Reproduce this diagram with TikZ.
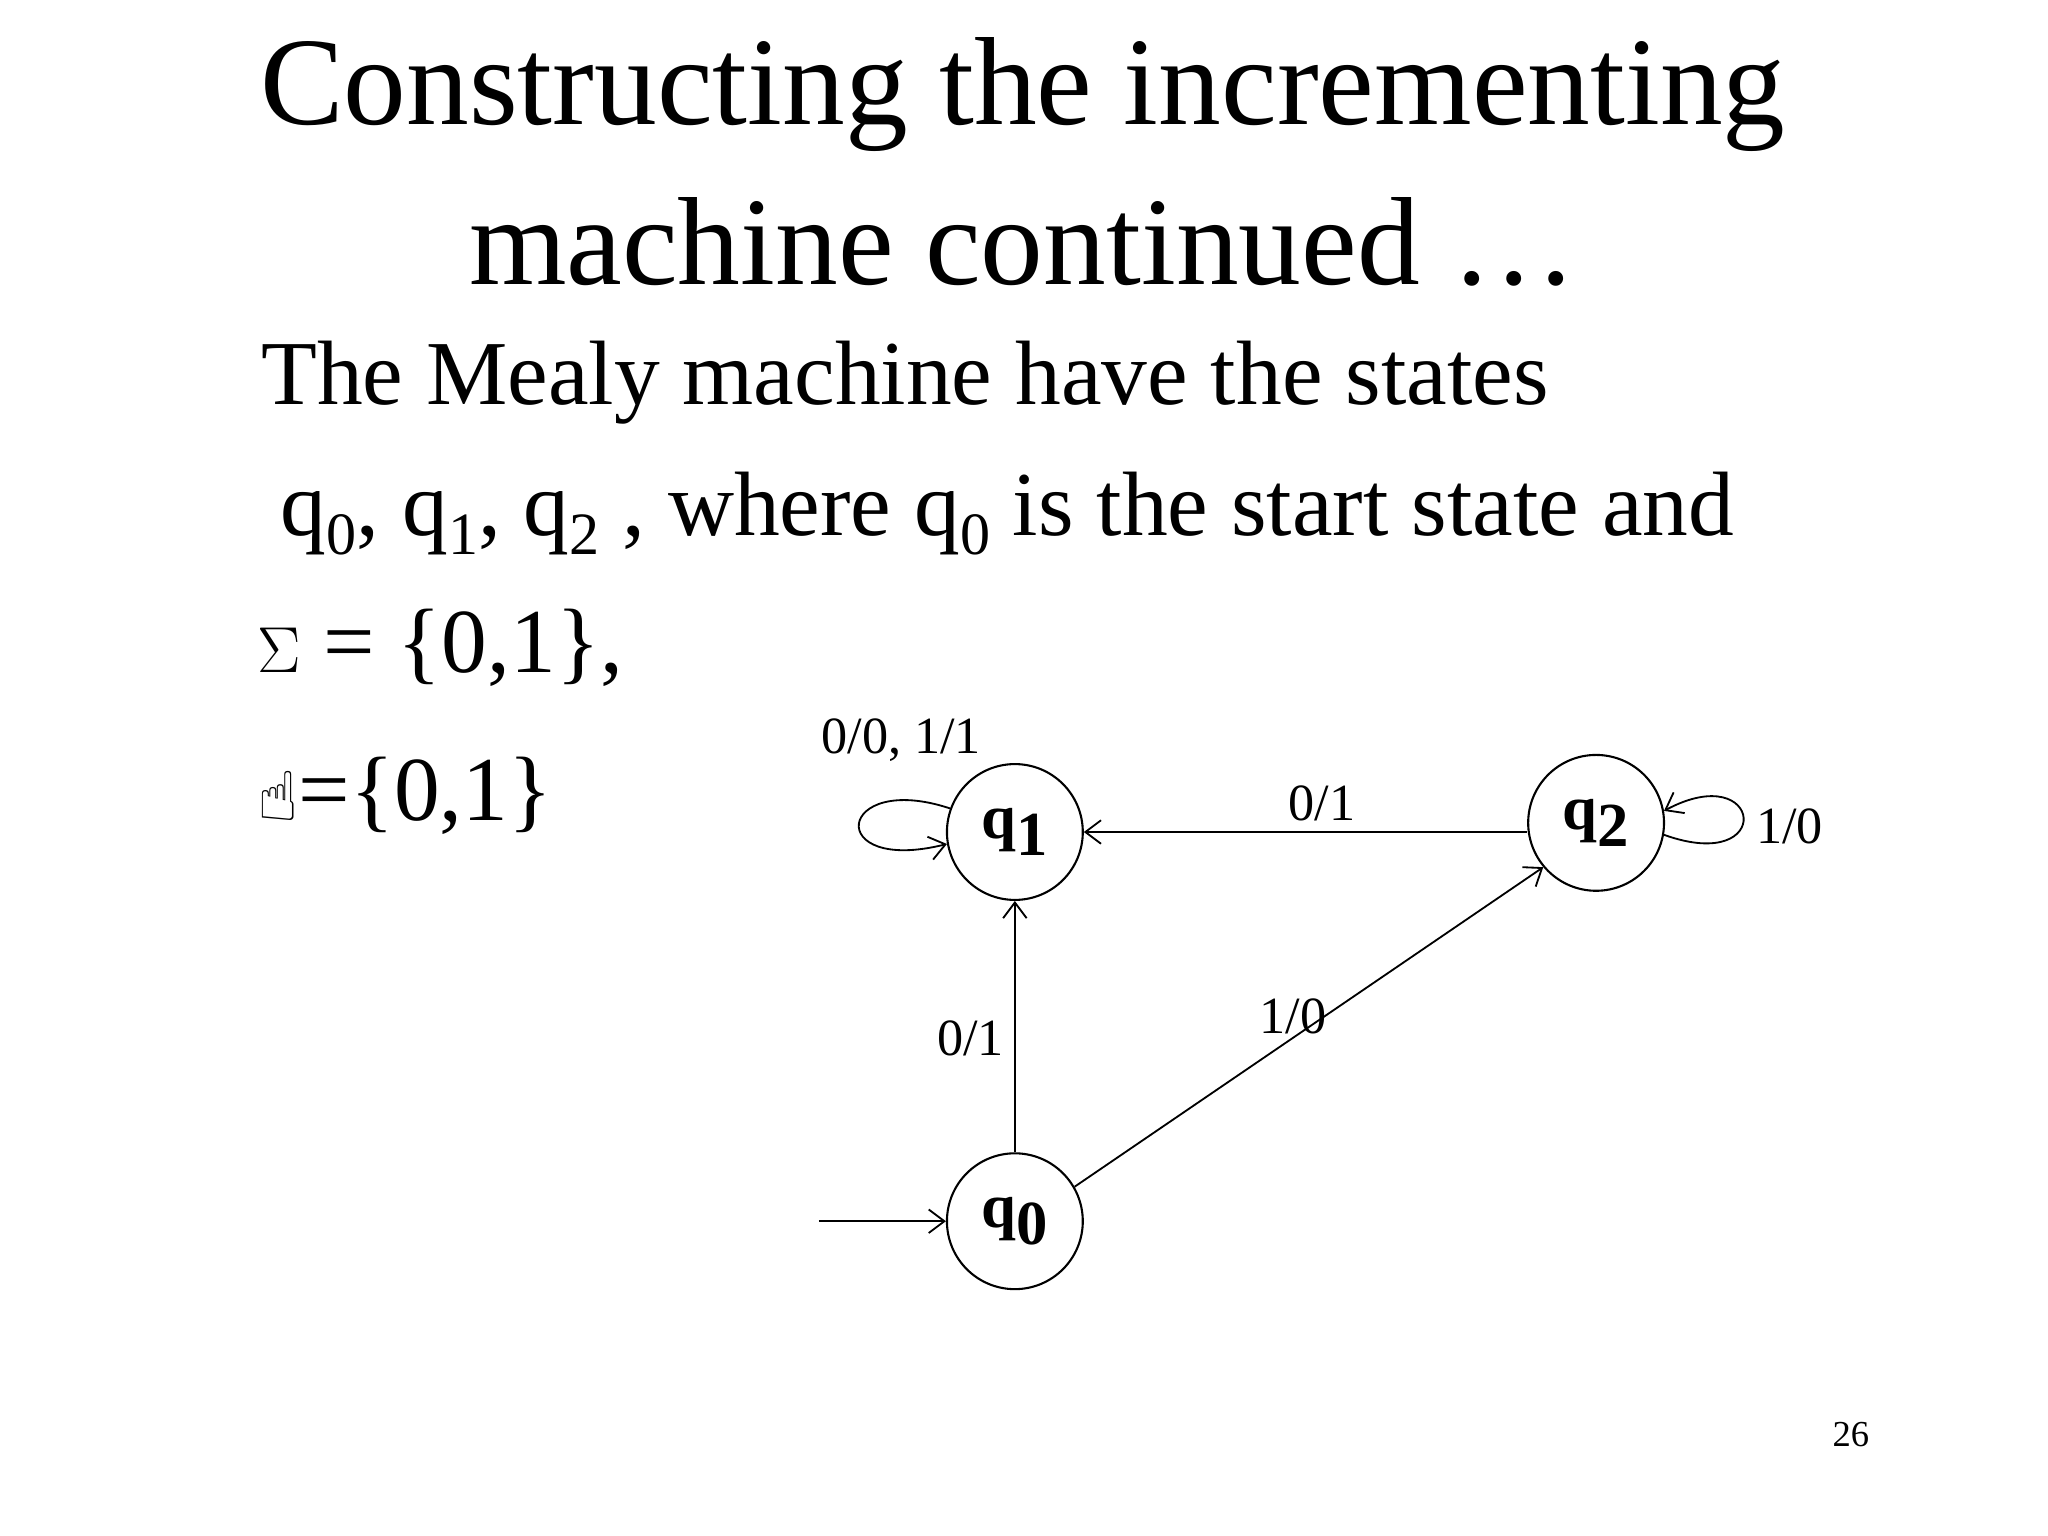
\documentclass[tikz,border=0pt]{standalone}
\usepackage{fontspec}
\setmainfont{Liberation Serif}
\newfontfamily\symfont{DejaVu Sans}
\newcommand{\lowsub}[1]{\raisebox{-0.45ex}{\fontsize{23}{26}\selectfont #1}}
\begin{document}
\begin{tikzpicture}[x=0.5pt,y=-0.5pt,
  st/.style={circle,draw,line width=0.8pt,minimum size=52pt,inner sep=0pt,font=\fontsize{24}{28}\selectfont\bfseries},
  lbl/.style={font=\fontsize{20}{24}\selectfont},
  tr/.style={->,line width=0.7pt,>={Straight Barb[length=6pt,width=9pt]}},
  body/.style={anchor=base west,font=\fontsize{35}{40}\selectfont}]
\useasboundingbox (0,0) rectangle (1568,1176);
\usetikzlibrary{arrows.meta}
\node[font=\fontsize{48}{56}\selectfont] (t1) at (783,72) {Constructing the incrementing};
\node[font=\fontsize{48}{56}\selectfont] (t2) at (783,185) {machine continued \dots};
\node[body] (l1) at (193,310) {The Mealy machine have the states};
\node[body] (l2) at (208,410) {q\lowsub{0}, q\lowsub{1}, q\lowsub{2} , where q\lowsub{0} is the start state and};
\node[body] (l3) at (190,515) {$\Sigma$ = \{0,1\},};
\node[body] (l4) at (190,628) {{\symfont\fontsize{26}{30}\selectfont ☝}=\{0,1\}};
\node[st] (q1) at (777,637) {q\raisebox{-0.6ex}{1}};
\node[st] (q2) at (1222,630) {q\raisebox{-0.6ex}{2}};
\node[st] (q0) at (777,935) {q\raisebox{-0.6ex}{0}};
\coordinate (s) at (627,935);
\draw[tr] (s) -- (q0);
\draw[tr] (q0) -- (q1);
\draw[tr] (q0.30) -- (q2.220);
\draw[tr] (q2.west |- q1) -- (q1);
\draw[tr] (q1.160) .. controls (640,590) and (630,670) .. (q1.190);
\draw[tr] (q2.350) .. controls (1360,670) and (1350,580) .. (q2.10);
\node[lbl] (a) at (690,567) {0/0, 1/1};
\node[lbl] (b) at (1012,615) {0/1};
\node[lbl] (c) at (1370,633) {1/0};
\node[lbl] (d) at (743,795) {0/1};
\node[lbl] (e) at (990,778) {1/0};
\node[font=\fontsize{14}{16}\selectfont] (p) at (1417,1098) {26};
\end{tikzpicture}
\end{document}
